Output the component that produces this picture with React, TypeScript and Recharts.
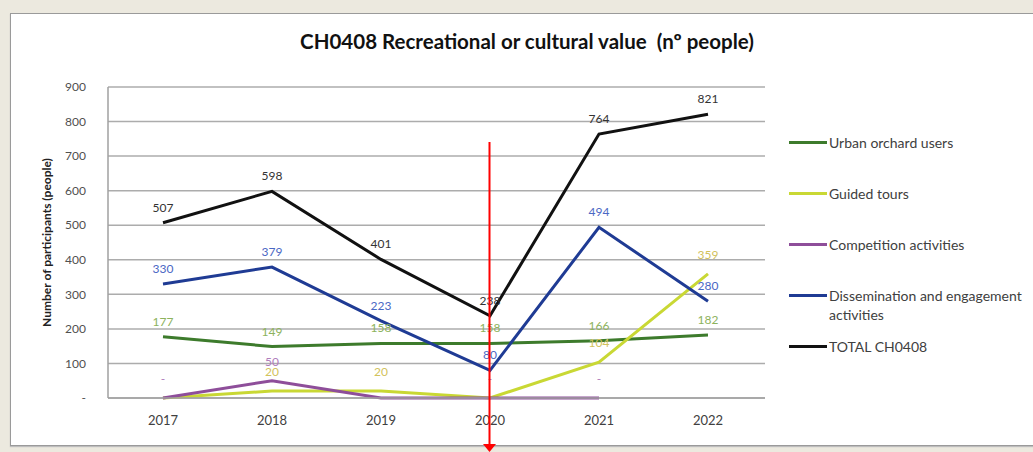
import { LineChart, Line, XAxis, YAxis, CartesianGrid, Legend, LabelList, Label } from 'recharts';

const years = ['2017', '2018', '2019', '2020', '2021', '2022'];
const urbanOrchard = [177, 149, 158, 158, 166, 182];
const guidedTours = [0, 20, 20, 0, 104, 359];
const competition: (number | null)[] = [0, 50, 0, 0, 0, null];
const dissemination = [330, 379, 223, 80, 494, 280];
const total = [507, 598, 401, 238, 764, 821];
const yTicks = [0, 100, 200, 300, 400, 500, 600, 700, 800, 900];

// data labels as they show in the picture (Excel writes zero as "-", some are hidden)
const urbanLabels = ['177', '149', '158', '158', '166', '182'];
const guidedLabels = ['', '20', '20', '', '104', '359'];
const competitionLabels = ['-', '50', '', '-', '-', ''];
const disseminationLabels = ['330', '379', '223', '80', '494', '280'];
const totalLabels = ['507', '598', '401', '238', '764', '821'];

const data = years.map((year, i) => ({
  year,
  urban: urbanOrchard[i],
  guided: guidedTours[i],
  competition: competition[i],
  dissemination: dissemination[i],
  total: total[i],
  urbanLabel: urbanLabels[i],
  guidedLabel: guidedLabels[i],
  competitionLabel: competitionLabels[i],
  disseminationLabel: disseminationLabels[i],
  totalLabel: totalLabels[i],
}));

const FONT = 'Lato, "Open Sans", sans-serif';

const series = [
  { key: 'urban', name: 'Urban orchard users', color: '#3d7b2c', labelColor: '#8db35d', offset: 11 },
  { key: 'guided', name: 'Guided tours', color: '#c9d834', labelColor: '#d2c25c', offset: 15 },
  { key: 'competition', name: 'Competition activities', color: '#8e4e9a', labelColor: '#b07cbc', offset: 15 },
  { key: 'dissemination', name: 'Dissemination and engagement activities', color: '#1f3b94', labelColor: '#4a68c4', offset: 11 },
  { key: 'total', name: 'TOTAL CH0408', color: '#111111', labelColor: '#333333', offset: 11 },
];

const dash = (v: unknown) => (v === 0 ? '-' : String(v));

function LegendBox() {
  return (
    <div style={{ fontFamily: FONT, fontSize: 14, color: '#404040' }}>
      {series.map((s) => (
        <div key={s.key} style={{ display: 'flex', alignItems: 'flex-start', height: 51 }}>
          <div style={{ width: 38, height: 3, background: s.color, marginTop: 8, flex: 'none' }} />
          <div style={{ width: 205, lineHeight: '19px', paddingLeft: 2 }}>{s.name}</div>
        </div>
      ))}
    </div>
  );
}

export default function App() {
  return (
    <div style={{ position: 'absolute', left: 0, top: 0, width: 1033, height: 452, background: '#ece9df', overflow: 'hidden' }}>
      <div
        style={{
          position: 'absolute', left: 10, top: 13, width: 1030, height: 431,
          background: '#ffffff', border: '1px solid #9a9a9a', borderRightWidth: 0,
          boxShadow: '0 1px 1px #bdbdbd',
        }}
      />
      <div
        style={{
          position: 'absolute', left: 0, top: 29, width: 1054, textAlign: 'center',
          fontFamily: FONT, fontWeight: 700, fontSize: 20.5, color: '#111',
        }}
      >
        CH0408 Recreational or cultural value&nbsp; (nº people)
      </div>
      <div style={{ position: 'absolute', left: 0, top: 0 }}>
        <LineChart width={1033} height={452} data={data} margin={{ top: 87, right: 24, bottom: 24, left: 30 }}>
          <CartesianGrid vertical={false} stroke="#acacac" strokeWidth={1.5} />
          <XAxis
            dataKey="year"
            padding={{ left: 55, right: 57 }}
            tickLine={false}
            axisLine={{ stroke: '#a0a0a0', strokeWidth: 1.5 }}
            tickMargin={12}
            height={30}
            tick={{ fontSize: 13, fill: '#404040', fontFamily: FONT }}
          />
          <YAxis
            domain={[0, 900]}
            ticks={yTicks}
            width={78}
            tickLine={false}
            tickSize={0}
            tickMargin={22}
            tickFormatter={dash}
            axisLine={{ stroke: '#a0a0a0', strokeWidth: 1.5 }}
            tick={{ fontSize: 12, fill: '#505050', fontFamily: FONT }}
          >
            <Label
              content={({ viewBox }) => {
                const vb = viewBox as { x: number; y: number; height: number };
                const cx = vb.x + 16;
                const cy = vb.y + vb.height / 2;
                return (
                  <text
                    x={cx}
                    y={cy}
                    transform={`rotate(-90 ${cx} ${cy})`}
                    textAnchor="middle"
                    dominantBaseline="central"
                    style={{ fontFamily: FONT, fontSize: 12, fontWeight: 700, fill: '#222' }}
                  >
                    Number of participants (people)
                  </text>
                );
              }}
            />
          </YAxis>
          <Legend
            layout="vertical"
            verticalAlign="top"
            align="right"
            wrapperStyle={{ left: 789, top: 133, width: 244 }}
            content={() => <LegendBox />}
          />
          {series.map((s) => (
            <Line
              key={s.key}
              type="linear"
              dataKey={s.key}
              name={s.name}
              stroke={s.color}
              strokeWidth={3}
              dot={false}
              activeDot={false}
              isAnimationActive={false}
            >
              <LabelList
                dataKey={`${s.key}Label`}
                position="top"
                offset={s.offset}
                style={{ fontSize: 12, fill: s.labelColor, fontFamily: FONT }}
              />
            </Line>
          ))}
        </LineChart>
      </div>
      <svg width={1033} height={452} style={{ position: 'absolute', left: 0, top: 0, pointerEvents: 'none' }}>
        <line x1={489.5} y1={142} x2={489.5} y2={446} stroke="#ff0000" strokeWidth={2} />
        <polygon points="483,444 496,444 489.5,452" fill="#ff0000" />
      </svg>
    </div>
  );
}
